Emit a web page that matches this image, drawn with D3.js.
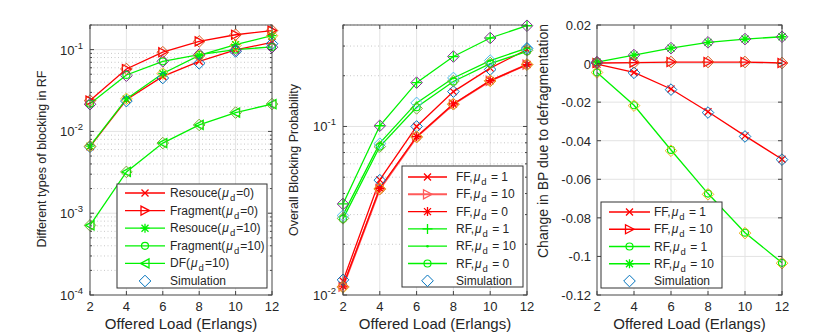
<!DOCTYPE html>
<html>
<head>
<meta charset="utf-8">
<script src="https://cdn.jsdelivr.net/npm/d3@7"></script>
<style>
  body { margin: 0; background: #fff; }
  svg { font-family: "Liberation Sans", Arial, Helvetica, sans-serif; }
</style>
</head>
<body>
<svg id="chart" width="830" height="332"></svg>
<script>
// offered load (x axis, all panels)
const loads = [2, 4, 6, 8, 10, 12];

// panel 1 : different types of blocking in RF
const resouceMu0   = [0.0065, 0.0244, 0.047, 0.072, 0.099, 0.123];
const fragmentMu0  = [0.0238, 0.058, 0.093, 0.126, 0.152, 0.171];
const resouceMu10  = [0.0066, 0.025, 0.051, 0.085, 0.115, 0.148];
const fragmentMu10 = [0.0218, 0.049, 0.072, 0.087, 0.1, 0.108];
const dfMu10       = [0.00071, 0.0032, 0.0072, 0.012, 0.017, 0.0216];
const simResouceMu0   = [0.0065, 0.0235, 0.045, 0.068, 0.095, 0.118];
const simFragmentMu0  = [0.0238, 0.058, 0.093, 0.126, 0.152, 0.171];
const simResouceMu10  = [0.0066, 0.025, 0.051, 0.084, 0.113, 0.148];
const simFragmentMu10 = [0.0215, 0.048, 0.072, 0.087, 0.099, 0.107];
const simDfMu10       = [0.00071, 0.0032, 0.0072, 0.012, 0.017, 0.0216];

// panel 2 : overall blocking probability
const ffMu1  = [0.0121, 0.0482, 0.100, 0.161, 0.222, 0.286];
const ffMu10 = [0.0112, 0.0425, 0.0865, 0.1355, 0.1865, 0.233];
const ffMu0  = [0.0113, 0.043, 0.087, 0.136, 0.187, 0.233];
const rfMu1  = [0.0347, 0.101, 0.182, 0.26, 0.335, 0.396];
const rfMu10 = [0.0299, 0.0796, 0.138, 0.194, 0.246, 0.292];
const rfMu0  = [0.0283, 0.076, 0.130, 0.185, 0.236, 0.279];
const simFfMu1  = [0.0123, 0.048, 0.100, 0.161, 0.218, 0.29];
const simFfMu10 = [0.0112, 0.0425, 0.0865, 0.1355, 0.1865, 0.233];
const simFfMu0  = [0.0111, 0.0428, 0.087, 0.136, 0.187, 0.233];
const simRfMu1  = [0.0347, 0.101, 0.182, 0.26, 0.335, 0.396];
const simRfMu10 = [0.0285, 0.076, 0.128, 0.186, 0.238, 0.283];
const simRfMu0  = [0.0296, 0.079, 0.138, 0.194, 0.246, 0.292];

// panel 3 : change in BP due to defragmentation
const chFfMu1  = [-0.0003, -0.0046, -0.0132, -0.025, -0.0375, -0.0496];
const chFfMu10 = [0.0003, 0.0005, 0.0008, 0.0008, 0.0008, 0.0003];
const chRfMu1  = [-0.0046, -0.0216, -0.0448, -0.0674, -0.0877, -0.1033];
const chRfMu10 = [0.0008, 0.0044, 0.008, 0.011, 0.0127, 0.0139];
const simChFfMu1  = [0.0002, -0.0048, -0.0135, -0.0254, -0.0378, -0.0498];
const simChFfMu10 = [0.0003, 0.0005, 0.0008, 0.0008, 0.0008, 0.0003];
const simChRfMu1  = [-0.0046, -0.0218, -0.0452, -0.0678, -0.0879, -0.1035];
const simChRfMu10 = [0.0008, 0.0044, 0.008, 0.011, 0.0127, 0.0139];

// tick labels
const xTicks = [2, 4, 6, 8, 10, 12];
const logTicks1 = [-4, -3, -2, -1];
const logTicks2 = [-2, -1];
const linTicks3 = [0.02, 0, -0.02, -0.04, -0.06, -0.08, -0.1, -0.12];

// axis titles
const xTitle = "Offered Load (Erlangs)";
const yTitles = ["Different types of blocking in RF", "Overall Blocking Probability", "Change in BP due to defragmentation"];

// legend labels: [before mu, after subscript]
const legend1 = [["Resouce(", "=0)"], ["Fragment(", "=0)"], ["Resouce(", "=10)"], ["Fragment(", "=10)"], ["DF(", "=10)"]];
const legend2 = [["FF,", " = 1"], ["FF,", " = 10"], ["FF,", " = 0"], ["RF,", " = 1"], ["RF,", " = 10"], ["RF,", " = 0"]];
const legend3 = [["FF,", " = 1"], ["FF,", " = 10"], ["RF,", " = 1"], ["RF,", " = 10"]];
const simLabel = "Simulation";

const RED = "#ff0000", GREEN = "#00f200", PINK = "#ff5a5a";
const simColors = ["#0072BD", "#D95319", "#EDB120", "#7E2F8E", "#77AC30", "#4DBEEE"];
const TXT = "#262626";

const svg = d3.select("#chart");

function markerPath(type) {
  const s = 3.5;
  switch (type) {
    case "x": return `M${-s},${-s}L${s},${s}M${-s},${s}L${s},${-s}`;
    case "*": return `M${-s},${-s}L${s},${s}M${-s},${s}L${s},${-s}M0,${-s-1}L0,${s+1}M${-s-1},0L${s+1},0`;
    case "+": return `M0,-5L0,5M-5,0L5,0`;
    case ">": return `M-4,-4.5L4.5,0L-4,4.5Z`;
    case "<": return `M4,-4.5L-4.5,0L4,4.5Z`;
    case "d": return `M0,-5.8L5.8,0L0,5.8L-5.8,0Z`;
    default: return null;
  }
}

function drawMarker(g, type, cx, cy, color) {
  if (type === "o") {
    g.append("circle").attr("cx", cx).attr("cy", cy).attr("r", 3.5)
      .attr("fill", "none").attr("stroke", color).attr("stroke-width", 1.2);
  } else if (type === ".") {
    g.append("circle").attr("cx", cx).attr("cy", cy).attr("r", 1.3).attr("fill", color);
  } else {
    g.append("path").attr("transform", `translate(${cx},${cy})`).attr("d", markerPath(type))
      .attr("fill", "none").attr("stroke", color).attr("stroke-width", type === "d" ? 1 : 1.3);
  }
}

function drawPanel(p) {
  const g = svg.append("g");
  const x = d3.scaleLinear().domain([2, 12]).range([p.left, p.right]);
  const y = p.log
    ? d3.scaleLog().domain(p.domain).range([p.bottom, p.top])
    : d3.scaleLinear().domain(p.domain).range([p.bottom, p.top]);

  // grid
  const grid = g.append("g");
  xTicks.forEach(t => {
    grid.append("line").attr("x1", x(t)).attr("x2", x(t)).attr("y1", p.top).attr("y2", p.bottom)
      .attr("stroke", "#e3e3e3").attr("stroke-width", 1);
  });
  if (p.log) {
    const lo = Math.floor(Math.log10(p.domain[0])), hi = Math.ceil(Math.log10(p.domain[1]));
    for (let e = lo; e < hi; e++) {
      for (let m = 2; m <= 9; m++) {
        const v = m * Math.pow(10, e);
        if (v > p.domain[1] * 1.0001) continue;
        grid.append("line").attr("x1", p.left).attr("x2", p.right).attr("y1", y(v)).attr("y2", y(v))
          .attr("stroke", "#c8c8c8").attr("stroke-width", 1).attr("stroke-dasharray", "1,2.5");
        g.append("line").attr("x1", p.left).attr("x2", p.left + 2).attr("y1", y(v)).attr("y2", y(v)).attr("stroke", "#444");
        g.append("line").attr("x1", p.right).attr("x2", p.right - 2).attr("y1", y(v)).attr("y2", y(v)).attr("stroke", "#444");
      }
    }
  }
  p.yTicks.forEach(t => {
    const v = p.log ? Math.pow(10, t) : t;
    grid.append("line").attr("x1", p.left).attr("x2", p.right).attr("y1", y(v)).attr("y2", y(v))
      .attr("stroke", "#e3e3e3").attr("stroke-width", 1);
  });

  // series lines + markers
  const line = d3.line().x((d, i) => x(loads[i])).y(d => y(d));
  p.series.forEach(s => {
    g.append("path").datum(s.values).attr("d", line).attr("fill", "none")
      .attr("stroke", s.color).attr("stroke-width", s.width || 1.3);
    s.values.forEach((v, i) => drawMarker(g, s.marker, x(loads[i]), y(v), s.color));
  });
  // simulation diamonds
  p.sims.forEach((vals, k) => {
    vals.forEach((v, i) => drawMarker(g, "d", x(loads[i]), y(v), simColors[k]));
  });

  // box and ticks
  g.append("rect").attr("x", p.left).attr("y", p.top).attr("width", p.right - p.left).attr("height", p.bottom - p.top)
    .attr("fill", "none").attr("stroke", "#555").attr("stroke-width", 1);
  xTicks.forEach(t => {
    g.append("line").attr("x1", x(t)).attr("x2", x(t)).attr("y1", p.bottom).attr("y2", p.bottom - 4).attr("stroke", "#444");
    g.append("line").attr("x1", x(t)).attr("x2", x(t)).attr("y1", p.top).attr("y2", p.top + 4).attr("stroke", "#444");
    g.append("text").attr("x", x(t)).attr("y", p.bottom + 16).attr("text-anchor", "middle")
      .attr("font-size", 13).attr("fill", TXT).text(t);
  });
  p.yTicks.forEach(t => {
    const v = p.log ? Math.pow(10, t) : t;
    const yy = y(v);
    g.append("line").attr("x1", p.left).attr("x2", p.left + 4).attr("y1", yy).attr("y2", yy).attr("stroke", "#444");
    g.append("line").attr("x1", p.right).attr("x2", p.right - 4).attr("y1", yy).attr("y2", yy).attr("stroke", "#444");
    const txt = g.append("text").attr("x", p.left - (p.log ? 7 : 6)).attr("y", yy + 5).attr("text-anchor", "end")
      .attr("font-size", 13).attr("fill", TXT);
    if (p.log) {
      txt.append("tspan").text("10");
      txt.append("tspan").attr("font-size", 9.5).attr("dy", -6).text(t);
    } else {
      txt.text(t === 0 ? "0" : String(+t.toFixed(2)));
    }
  });

  // titles
  g.append("text").attr("x", (p.left + p.right) / 2).attr("y", p.bottom + 34).attr("text-anchor", "middle")
    .attr("font-size", 15).attr("fill", TXT).text(xTitle);
  g.append("text").attr("transform", `translate(${p.yTitleX},${p.yTitleY}) rotate(-90)`)
    .attr("text-anchor", "middle").attr("font-size", p.yTitleSize).attr("fill", TXT).text(p.yTitle);

  // legend
  const L = p.legend;
  const lg = g.append("g");
  lg.append("rect").attr("x", L.x0).attr("y", L.y0).attr("width", L.x1 - L.x0).attr("height", L.y1 - L.y0)
    .attr("fill", "#fff").attr("stroke", "#333").attr("stroke-width", 1);
  const rows = p.series.length + 1;
  for (let r = 0; r < rows; r++) {
    const yy = L.rowY + r * L.rowH;
    if (r < p.series.length) {
      const s = p.series[r];
      lg.append("line").attr("x1", L.lx0).attr("x2", L.lx1).attr("y1", yy).attr("y2", yy)
        .attr("stroke", s.color).attr("stroke-width", s.width || 1.3);
      drawMarker(lg, s.marker, (L.lx0 + L.lx1) / 2, yy, s.color);
      const lab = p.labels[r];
      const t = lg.append("text").attr("x", L.tx).attr("y", yy + 4).attr("font-size", 12).attr("fill", TXT);
      t.append("tspan").text(lab[0]);
      t.append("tspan").attr("font-style", "italic").attr("dx", 1).text("\u03bc");
      t.append("tspan").attr("font-size", 9.5).attr("dx", 1).attr("dy", 4).text("d");
      t.append("tspan").attr("dy", -4).attr("dx", 1).text(lab[1]);
    } else {
      drawMarker(lg, "d", (L.lx0 + L.lx1) / 2, yy, simColors[0]);
      lg.append("text").attr("x", L.tx).attr("y", yy + 4).attr("font-size", 12).attr("fill", TXT).text(simLabel);
    }
  }
}

drawPanel({
  left: 90, right: 272, top: 25, bottom: 295, log: true, domain: [1e-4, 0.2],
  yTicks: logTicks1, yTitle: yTitles[0], yTitleX: 46, yTitleY: 159, yTitleSize: 12.5,
  series: [
    { values: resouceMu0, color: RED, marker: "x" },
    { values: fragmentMu0, color: RED, marker: ">" },
    { values: resouceMu10, color: GREEN, marker: "*" },
    { values: fragmentMu10, color: GREEN, marker: "o" },
    { values: dfMu10, color: GREEN, marker: "<" }
  ],
  sims: [simResouceMu0, simFragmentMu0, simResouceMu10, simFragmentMu10, simDfMu10],
  labels: legend1,
  legend: { x0: 117, x1: 267, y0: 184, y1: 288, rowY: 193, rowH: 17.6, lx0: 125, lx1: 165, tx: 170 }
});

drawPanel({
  left: 343, right: 527, top: 25, bottom: 295, log: true, domain: [0.01, 0.4],
  yTicks: logTicks2, yTitle: yTitles[1], yTitleX: 298, yTitleY: 160, yTitleSize: 12.5,
  series: [
    { values: ffMu1, color: RED, marker: "x" },
    { values: ffMu10, color: PINK, marker: ">", width: 2 },
    { values: ffMu0, color: RED, marker: "*" },
    { values: rfMu1, color: GREEN, marker: "+" },
    { values: rfMu10, color: GREEN, marker: "." },
    { values: rfMu0, color: GREEN, marker: "o" }
  ],
  sims: [simFfMu1, simFfMu10, simFfMu0, simRfMu1, simRfMu10, simRfMu0],
  labels: legend2,
  legend: { x0: 402, x1: 523, y0: 166, y1: 287, rowY: 177, rowH: 17.3, lx0: 408, lx1: 447, tx: 456 }
});

drawPanel({
  left: 597, right: 782, top: 25, bottom: 295, log: false, domain: [-0.12, 0.02],
  yTicks: linTicks3, yTitle: yTitles[2], yTitleX: 548, yTitleY: 141, yTitleSize: 14,
  series: [
    { values: chFfMu1, color: RED, marker: "x" },
    { values: chFfMu10, color: RED, marker: ">" },
    { values: chRfMu1, color: GREEN, marker: "o" },
    { values: chRfMu10, color: GREEN, marker: "*" }
  ],
  sims: [simChFfMu1, simChFfMu10, simChRfMu1, simChRfMu10],
  labels: legend3,
  legend: { x0: 601, x1: 722, y0: 202, y1: 288, rowY: 212, rowH: 17.25, lx0: 609, lx1: 650, tx: 654 }
});
</script>
</body>
</html>
